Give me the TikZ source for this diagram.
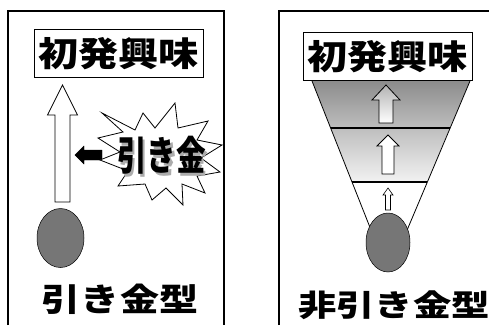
\documentclass[tikz,border=0pt]{standalone}
\usepackage{fontspec}
\newfontfamily\jp{Noto Sans CJK JP}
\definecolor{ballgray}{HTML}{767676}
\definecolor{banddark}{HTML}{8C8C8C}
\definecolor{bandmid}{HTML}{BEBEBE}
\definecolor{bandlight}{HTML}{F2F2F2}
\tikzset{
  frameline/.style={line width=1.1pt, black},
  titlebox/.style={draw, line width=1pt, fill=white, inner sep=0pt, minimum width=169pt, minimum height=48pt},
  hollowarrow/.style={draw, line width=0.8pt, fill=white, line join=miter},
  ball/.style={draw, line width=0.5pt, fill=ballgray, ellipse, inner sep=0pt},
  bandline/.style={line width=2.4pt},
  sideline/.style={line width=0.8pt},
}
\usetikzlibrary{shapes.geometric}
\newcommand{\trigtext}{\scalebox{0.74}[1]{引き金}}
\begin{document}
\begin{tikzpicture}[x=1pt,y=-1pt]
\useasboundingbox (0,0) rectangle (489,325);
% frames
\draw[frameline] (8,325) -- (8,11) -- (224,11) -- (224,325);
\draw[frameline] (279,325) -- (279,11) -- (489,11);

% ===== left panel =====
\node[titlebox] (boxL) at (118.5,53.5) {\jp\bfseries\fontsize{34}{34}\selectfont\scalebox{1.18}[1]{初発興味}};
\draw[hollowarrow] (62.5,85) -- (77.5,115) -- (70,115) -- (70,202) -- (55,202) -- (55,115) -- (47.5,115) -- cycle;
\draw[fill=black] (75,155) -- (84,146) -- (84,150) -- (102,150) -- (102,160) -- (84,160) -- (84,164) -- cycle;
\draw[line width=0.8pt, fill=white, line join=miter]
  (102,113) -- (135,130) -- (143,113) -- (155,128) -- (175,103) -- (178,128) -- (208,121)
  -- (197,140) -- (222,145) -- (201,158) -- (220,172) -- (197,176) -- (205,193) -- (182,184)
  -- (183,205) -- (166,188) -- (152,200) -- (145,184) -- (118,186) -- (128,171) -- (100,160)
  -- (120,152) -- (98,138) -- (123,132) -- cycle;
\node (trig) at (161.5,156.5) {\jp\bfseries\fontsize{40}{40}\selectfont\rlap{\hspace{2.5pt}\raisebox{-2.5pt}{\color{gray!65}\trigtext}}\trigtext};
\node[ball, minimum width=47pt, minimum height=59pt] (ballL) at (60.5,238) {};
\node (labL) at (120,299) {\jp\bfseries\fontsize{32}{32}\selectfont\scalebox{1.22}[1]{引き金型}};

% ===== right panel =====
\shade[top color=banddark, bottom color=bandmid] (312,81) -- (470,81) -- (449.8,128) -- (330.9,128) -- cycle;
\shade[top color=bandmid, bottom color=bandlight] (330.9,128) -- (449.8,128) -- (427.2,182) -- (352.2,182) -- cycle;
\draw[sideline] (312,81) -- (373,235);
\draw[sideline] (470,81) -- (405,235);
\draw[bandline] (330.9,128) -- (449.8,128);
\draw[bandline] (352.2,182) -- (427.2,182);
\shade[top color=gray!60, bottom color=white, draw=black, line width=0.8pt] (386,85) -- (400,100) -- (393,100) -- (393,123) -- (379,123) -- (379,100) -- (372,100) -- cycle;
\draw[hollowarrow] (388,135) -- (399,146) -- (394,146) -- (394,174) -- (382,174) -- (382,146) -- (377,146) -- cycle;
\draw[hollowarrow, line width=0.6pt] (388,188) -- (393,195) -- (390.5,195) -- (390.5,210) -- (385.5,210) -- (385.5,195) -- (383,195) -- cycle;
\node[ball, minimum width=44pt, minimum height=59pt] (ballR) at (388,242.5) {};
\node[titlebox] (boxR) at (387.5,56.5) {\jp\bfseries\fontsize{34}{34}\selectfont\scalebox{1.18}[1]{初発興味}};
\node (labR) at (394,305) {\jp\bfseries\fontsize{30}{30}\selectfont\scalebox{1.28}[1]{非引き金型}};
\end{tikzpicture}
\end{document}
